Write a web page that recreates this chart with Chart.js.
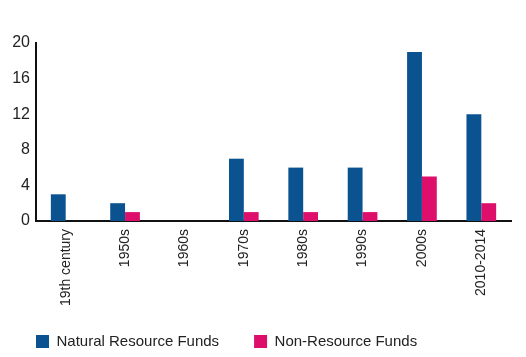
<!DOCTYPE html>
<html>
<head>
<meta charset="utf-8">
<script src="https://cdn.jsdelivr.net/npm/chart.js@4.4.0/dist/chart.umd.min.js"></script>
<style>
  html, body { margin: 0; padding: 0; background: #fff; }
  #wrap { width: 526px; height: 357px; }
</style>
</head>
<body>
<div id="wrap"><canvas id="fundsChart" width="526" height="357"></canvas></div>
<script>
// ===================== data ============================
const decades = ['19th century', '1950s', '1960s', '1970s', '1980s', '1990s', '2000s', '2010-2014'];
const naturalResourceFunds = [3, 2, 0, 7, 6, 6, 19, 12];
const nonResourceFunds = [0, 1, 0, 1, 1, 1, 5, 2];
const yTicks = [0, 4, 8, 12, 16, 20];

const blue = '#0b5290';
const pink = '#de0f6b';
const legendPad = 10;

Chart.defaults.font.family = '"Liberation Sans", Arial, Helvetica, sans-serif';
Chart.defaults.color = '#222';

// move legend flush with the y axis and a bit lower
const legendShift = {
  id: 'legendShift',
  afterLayout(chart) {
    chart.legend.left -= legendPad;
    chart.legend.top += 2;
    chart.legend.bottom += 2;
  }
};

// ===================== chart ============================
var ctx = document.getElementById('fundsChart').getContext('2d');

const fundsChart = new Chart(ctx, {
  type: 'bar',
  data: {
    labels: decades,
    datasets: [{
      label: 'Natural Resource Funds',
      data: naturalResourceFunds,
      backgroundColor: blue
    }, {
      label: 'Non-Resource Funds',
      data: nonResourceFunds,
      backgroundColor: pink
    }]
  },
  plugins: [legendShift],
  options: {
    responsive: false,
    animation: false,
    categoryPercentage: 0.5,
    barPercentage: 1.0,
    layout: {
      padding: { left: 0, right: 15, top: 43, bottom: 0 }
    },
    plugins: {
      tooltip: { enabled: false },
      legend: {
        position: 'bottom',
        align: 'start',
        fullSize: false,
        labels: {
          boxWidth: 13,
          boxHeight: 13,
          padding: legendPad,
          font: { size: 15 },
          color: '#222',
          generateLabels: function(chart) {
            const items = Chart.defaults.plugins.legend.labels.generateLabels(chart);
            items[0].text = items[0].text + '      ';
            return items;
          }
        }
      }
    },
    scales: {
      x: {
        grid: { display: false },
        border: { display: true, color: '#111', width: 2 },
        ticks: {
          minRotation: 90,
          maxRotation: 90,
          autoSkip: false,
          padding: 0,
          font: { size: 14 },
          color: '#222'
        },
        afterFit: function(scale) { scale.height = 101; }
      },
      y: {
        min: 0,
        max: 20,
        grid: { display: false, drawTicks: false },
        border: { display: true, color: '#111', width: 2 },
        afterBuildTicks: function(scale) {
          scale.ticks = yTicks.map(v => ({ value: v }));
        },
        ticks: {
          padding: 6,
          font: { size: 16 },
          color: '#222'
        },
        afterFit: function(scale) { scale.width = 36; }
      }
    }
  }
});
</script>
</body>
</html>
